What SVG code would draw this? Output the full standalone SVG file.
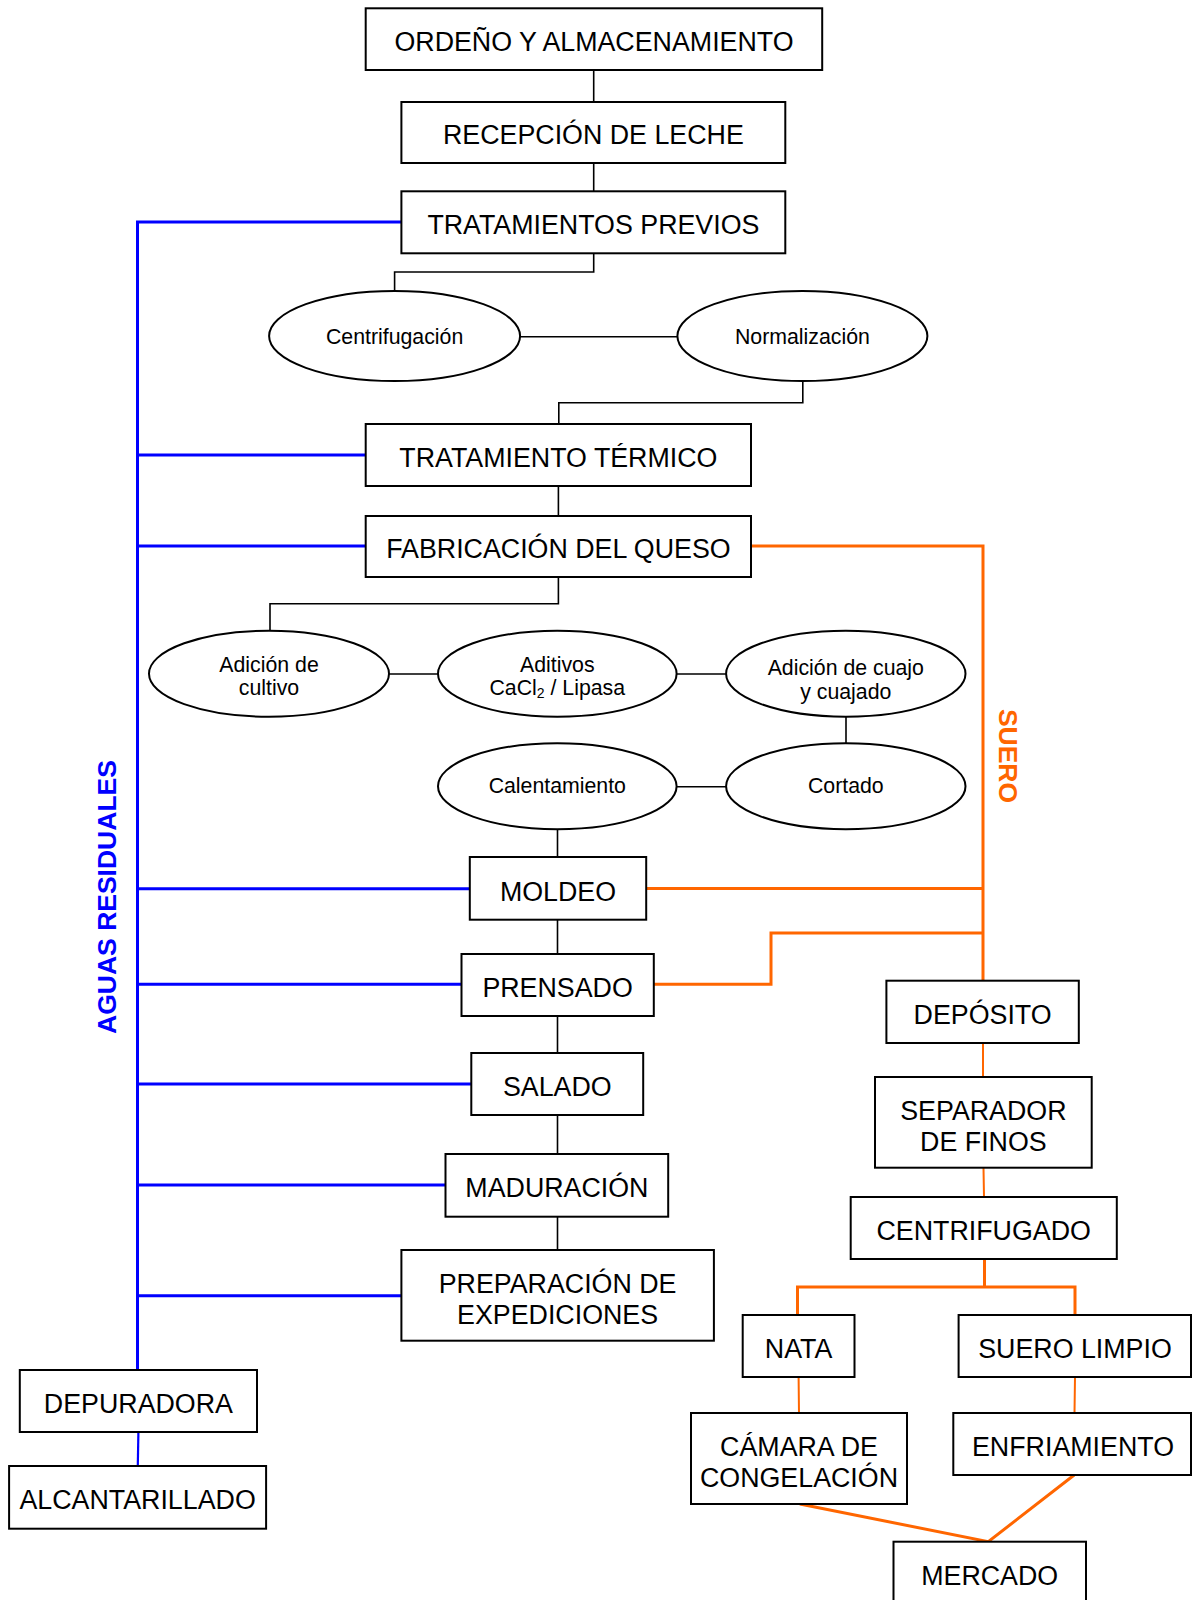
<svg xmlns="http://www.w3.org/2000/svg" width="1192" height="1600" viewBox="0 0 1192 1600">
<style>
.box{fill:#fff;stroke:#000;stroke-width:2}
.ell{fill:#fff;stroke:#000;stroke-width:2}
.bt{font-family:"Liberation Sans",Arial,sans-serif;font-size:26.8px;fill:#000;text-anchor:middle}
.et{font-family:"Liberation Sans",Arial,sans-serif;font-size:21.3px;fill:#000;text-anchor:middle}
.k{fill:none;stroke:#000;stroke-width:1.6}
.b{fill:none;stroke:#0000ff;stroke-width:3}
.o{fill:none;stroke:#ff6600;stroke-width:3}
.o2{fill:none;stroke:#ff6600;stroke-width:2}
.lab{font-family:"Liberation Sans",Arial,sans-serif;font-size:26.5px;font-weight:bold;text-anchor:middle}
</style>
<rect width="1192" height="1600" fill="#fff"/>
<g id="connectors">
<path class="k" d="M593.7,70V102M593.7,163V191M593.7,253V272H394.6V291M520,336.7H677.4M802.8,381V402.7H558.8V424M558.4,486V516M558.4,577V603.7H270V630.7M389,674H438M676.6,674H726M846,716.7V743M676.6,786.7H726M557.5,829.3V857M557.5,919.7V954M557.5,1016V1053M557.5,1115V1154M557.5,1217V1250"/>
<path class="b" d="M137.5,1370V222H401.4M137.5,455H365.7M137.5,546H365.7M137.5,888.7H469.8M137.5,984.3H461.5M137.5,1084H471.3M137.5,1185H445.5M137.5,1295.7H401.4"/>
<path class="b" style="stroke-width:2.2" d="M138.4,1432L137.8,1466"/>
<path class="o" d="M751,546H983V981M646.2,888.5H983M653.8,984.3H771V933H983"/>
<path class="o2" d="M983,1043V1077M983.5,1168L984,1197M798.6,1377L799,1413M1075,1377L1074.5,1413"/>
<path class="o" d="M984.5,1259V1287M797.5,1315V1287H1075V1315M799.8,1504L988.3,1541.7L1074.2,1475"/>
</g>
<g id="n-ordeno"><rect class="box" x="365.7" y="8.3" width="456.5" height="61.7"/><text class="bt" x="594" y="50.7">ORDEÑO Y ALMACENAMIENTO</text></g>
<g id="n-recepcion"><rect class="box" x="401.4" y="102" width="383.9" height="61"/><text class="bt" x="593.4" y="144">RECEPCIÓN DE LECHE</text></g>
<g id="n-previos"><rect class="box" x="401.4" y="191.3" width="383.9" height="62"/><text class="bt" x="593.4" y="233.8">TRATAMIENTOS PREVIOS</text></g>
<g id="n-centrifugacion"><ellipse class="ell" cx="394.6" cy="336" rx="125.5" ry="45"/><text class="et" x="394.6" y="343.5">Centrifugación</text></g>
<g id="n-normalizacion"><ellipse class="ell" cx="802.4" cy="336" rx="125" ry="45"/><text class="et" x="802.4" y="343.5">Normalización</text></g>
<g id="n-termico"><rect class="box" x="365.7" y="424" width="385.3" height="62"/><text class="bt" x="558.4" y="466.5">TRATAMIENTO TÉRMICO</text></g>
<g id="n-fabricacion"><rect class="box" x="365.7" y="516" width="385.3" height="61"/><text class="bt" x="558.4" y="558">FABRICACIÓN DEL QUESO</text></g>
<g id="n-cultivo"><ellipse class="ell" cx="269" cy="673.7" rx="120" ry="43"/><text class="et" x="269" y="671.7">Adición de</text><text class="et" x="269" y="695">cultivo</text></g>
<g id="n-aditivos"><ellipse class="ell" cx="557.3" cy="673.7" rx="119.3" ry="43"/><text class="et" x="557.3" y="671.7">Aditivos</text><text class="et" x="557.3" y="695">CaCl<tspan font-size="14" dy="3">2</tspan><tspan dy="-3"> / Lipasa</tspan></text></g>
<g id="n-cuajo"><ellipse class="ell" cx="845.8" cy="673.7" rx="119.7" ry="43"/><text class="et" x="845.8" y="675">Adición de cuajo</text><text class="et" x="845.8" y="699">y cuajado</text></g>
<g id="n-calentamiento"><ellipse class="ell" cx="557.3" cy="786.2" rx="119.3" ry="43"/><text class="et" x="557.3" y="793.3">Calentamiento</text></g>
<g id="n-cortado"><ellipse class="ell" cx="845.8" cy="786.2" rx="119.7" ry="43"/><text class="et" x="845.8" y="793.3">Cortado</text></g>
<g id="n-moldeo"><rect class="box" x="469.8" y="857" width="176.4" height="62.7"/><text class="bt" x="558" y="900.5">MOLDEO</text></g>
<g id="n-prensado"><rect class="box" x="461.5" y="954" width="192.3" height="62"/><text class="bt" x="557.6" y="996.5">PRENSADO</text></g>
<g id="n-salado"><rect class="box" x="471.3" y="1053" width="171.9" height="62"/><text class="bt" x="557.3" y="1095.5">SALADO</text></g>
<g id="n-maduracion"><rect class="box" x="445.5" y="1154" width="222.7" height="62.7"/><text class="bt" x="556.9" y="1196.8">MADURACIÓN</text></g>
<g id="n-preparacion"><rect class="box" x="401.4" y="1250" width="312.5" height="90.7"/><text class="bt" x="557.6" y="1292.7">PREPARACIÓN DE</text><text class="bt" x="557.6" y="1324">EXPEDICIONES</text></g>
<g id="n-depuradora"><rect class="box" x="19.8" y="1370" width="237.2" height="62"/><text class="bt" x="138.4" y="1412.5">DEPURADORA</text></g>
<g id="n-alcantarillado"><rect class="box" x="9.1" y="1466" width="257" height="62.7"/><text class="bt" x="137.6" y="1508.8">ALCANTARILLADO</text></g>
<g id="n-deposito"><rect class="box" x="886.4" y="980.7" width="192.4" height="62.3"/><text class="bt" x="982.6" y="1023.5">DEPÓSITO</text></g>
<g id="n-separador"><rect class="box" x="875" y="1077" width="216.7" height="90.7"/><text class="bt" x="983.4" y="1120">SEPARADOR</text><text class="bt" x="983.4" y="1150.7">DE FINOS</text></g>
<g id="n-centrifugado"><rect class="box" x="850.7" y="1197" width="266.1" height="62"/><text class="bt" x="983.7" y="1239.5">CENTRIFUGADO</text></g>
<g id="n-nata"><rect class="box" x="742.7" y="1315" width="111.8" height="62"/><text class="bt" x="798.6" y="1357.5">NATA</text></g>
<g id="n-suero-limpio"><rect class="box" x="958.6" y="1315" width="232.4" height="62"/><text class="bt" x="1075" y="1357.5">SUERO LIMPIO</text></g>
<g id="n-camara"><rect class="box" x="691" y="1413" width="216" height="91"/><text class="bt" x="799" y="1456">CÁMARA DE</text><text class="bt" x="799" y="1486.7">CONGELACIÓN</text></g>
<g id="n-enfriamiento"><rect class="box" x="953.3" y="1413" width="237.7" height="62"/><text class="bt" x="1073" y="1455.5">ENFRIAMIENTO</text></g>
<g id="n-mercado"><rect class="box" x="893.5" y="1541.7" width="192.5" height="62"/><text class="bt" x="989.7" y="1584.5">MERCADO</text></g>
<text class="lab" fill="#0000ff" transform="translate(115.5,897) rotate(-90)">AGUAS RESIDUALES</text>
<text class="lab" fill="#ff6600" transform="translate(999,756) rotate(90)">SUERO</text>
</svg>
